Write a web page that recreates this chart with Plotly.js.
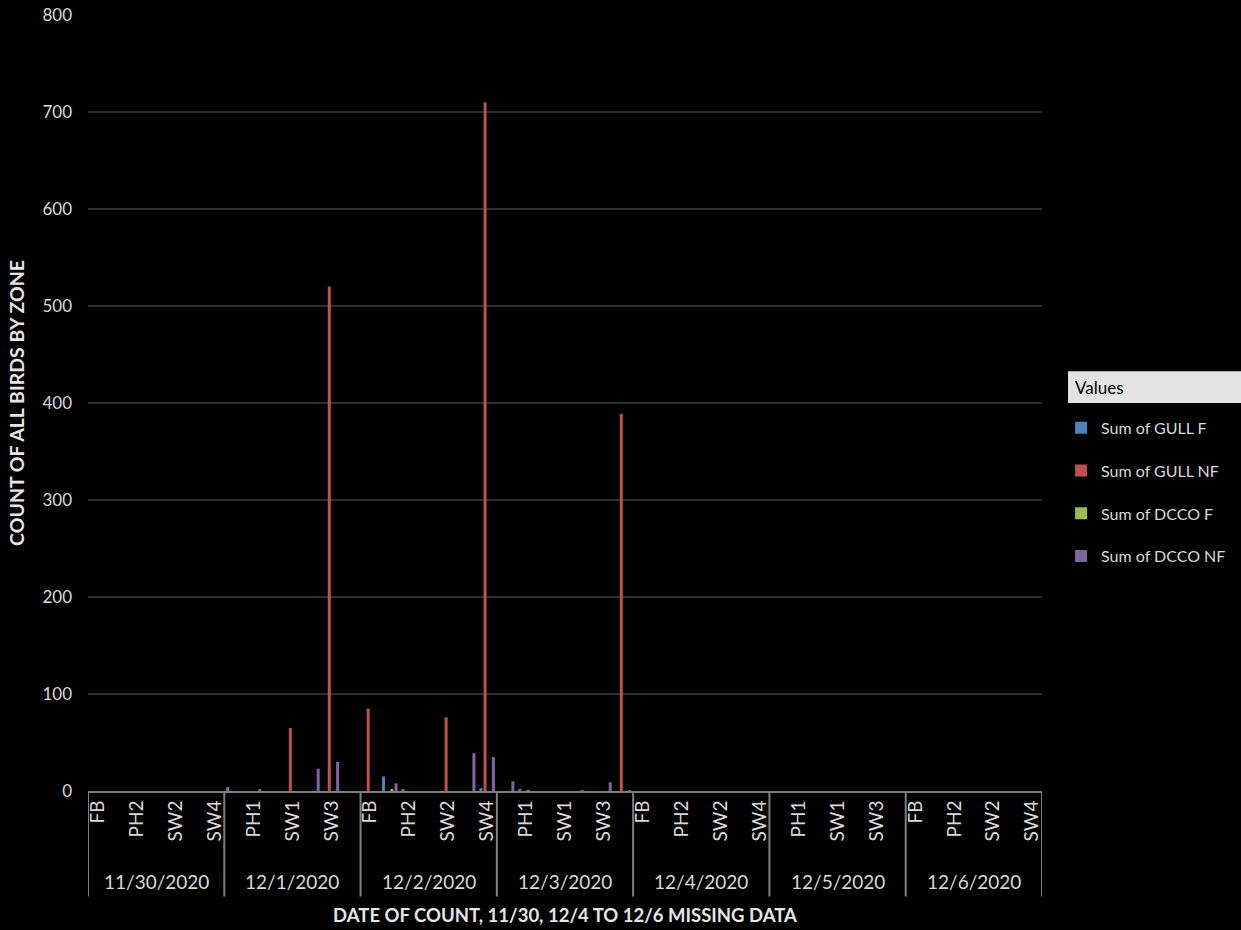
<!DOCTYPE html>
<html>
<head>
<meta charset="utf-8">
<script src="https://cdn.plot.ly/plotly-3.0.1.min.js"></script>
<style>
  html, body { margin: 0; padding: 0; background: #000; }
  #chart { width: 1241px; height: 930px; }
</style>
</head>
<body>
<div id="chart"></div>
<script>
// Categories
const dates = ["11/30/2020", "12/1/2020", "12/2/2020", "12/3/2020", "12/4/2020", "12/5/2020", "12/6/2020"];
const zones = ["FB", "PH1", "PH2", "SW1", "SW2", "SW3", "SW4"];

// Series values, one row of 7 zones per date (FB, PH1, PH2, SW1, SW2, SW3, SW4)
const gullF = [
  0, 0, 0, 0, 0, 0, 0,
  4, 0, 0, 0, 0, 0, 0,
  0, 15, 2, 0, 0, 0, 3,
  0, 2, 0, 0, 0, 0, 0,
  0, 0, 0, 0, 0, 0, 0,
  0, 0, 0, 0, 0, 0, 0,
  0, 0, 0, 0, 0, 0, 0
];
const gullNF = [
  0, 0, 0, 0, 0, 0, 0,
  0, 0, 0, 65, 0, 520, 0,
  85, 0, 0, 0, 76, 0, 710,
  0, 0, 0, 0, 1, 0, 389,
  0, 0, 0, 0, 0, 0, 0,
  0, 0, 0, 0, 0, 0, 0,
  0, 0, 0, 0, 0, 0, 0
];
const dccoF = [
  0, 0, 0, 0, 0, 0, 0,
  0, 0, 0, 0, 0, 0, 0,
  0, 2, 0, 0, 0, 0, 0,
  0, 1, 0, 0, 0, 0, 0,
  0, 0, 0, 0, 0, 0, 0,
  0, 0, 0, 0, 0, 0, 0,
  0, 0, 0, 0, 0, 0, 0
];
const dccoNF = [
  0, 0, 0, 0, 0, 0, 0,
  0, 2, 0, 0, 23, 30, 0,
  0, 8, 0, 0, 0, 39, 35,
  10, 0, 0, 0, 0, 9, 1,
  0, 0, 0, 0, 0, 0, 0,
  0, 0, 0, 0, 0, 0, 0,
  0, 0, 0, 0, 0, 0, 0
];
const seriesNames = ["Sum of GULL F", "Sum of GULL NF", "Sum of DCCO F", "Sum of DCCO NF"];
const seriesColors = ["#4f81bd", "#c0504d", "#9bbb59", "#8064a2"];
const yTicks = [0, 100, 200, 300, 400, 500, 600, 700, 800];

// Build flat category list
const cats = [];
dates.forEach(d => zones.forEach(z => cats.push(d + " " + z)));
// Every other zone label shown (as in the reference)
const tickVals = cats.filter((c, i) => i % 2 === 0);
const tickText = tickVals.map(c => c.split(" ")[1]);

const seriesVals = [gullF, gullNF, dccoF, dccoNF];
const textColor = "#d9d9d9";
const fontFam = "Lato, 'Open Sans', sans-serif";

const traces = seriesVals.map((vals, k) => ({
  type: "bar",
  name: seriesNames[k],
  x: cats,
  y: vals,
  marker: { color: seriesColors[k] },
  legendgroup: "g" + k,
  hoverinfo: "x+y+name"
}));

const lineColor = "#7f7f7f";
const shapes = [];
const annotations = [];
const nz = zones.length;
for (let d = 0; d <= dates.length; d++) {
  shapes.push({
    type: "line", xref: "x", yref: "paper",
    x0: d * nz - 0.5, x1: d * nz - 0.5, y0: 0, y1: -0.136,
    line: { color: lineColor, width: 2 }
  });
}
dates.forEach((d, i) => {
  annotations.push({
    xref: "x", yref: "paper",
    x: i * nz + (nz - 1) / 2, y: -0.117,
    text: d, showarrow: false, yanchor: "middle",
    font: { family: fontFam, size: 19, color: textColor }
  });
});
// Legend header "Values"
shapes.push({
  type: "rect", xref: "paper", yref: "paper",
  x0: 1.0273, x1: 1.21, y0: 0.5, y1: 0.541,
  fillcolor: "#e3e3e3", line: { width: 0 }
});
annotations.push({
  xref: "paper", yref: "paper", x: 1.0325, y: 0.5205,
  xanchor: "left", yanchor: "middle", showarrow: false,
  text: "Values", font: { family: fontFam, size: 17, color: "#000" }
});

const layout = {
  width: 1241, height: 930,
  paper_bgcolor: "#000", plot_bgcolor: "#000",
  margin: { l: 88, r: 199, t: 15, b: 139, autoexpand: false },
  barmode: "group",
  bargap: 0.14,
  bargroupgap: 0.28,
  showlegend: true,
  legend: {
    x: 1.02, xanchor: "left", y: 0.49, yanchor: "top",
    font: { family: fontFam, size: 16, color: textColor },
    tracegroupgap: 19, traceorder: "grouped",
    bgcolor: "rgba(0,0,0,0)"
  },
  xaxis: {
    type: "category",
    categoryorder: "array", categoryarray: cats,
    tickmode: "array", tickvals: tickVals, ticktext: tickText,
    tickangle: -90,
    tickfont: { family: fontFam, size: 19, color: textColor },
    showgrid: false, zeroline: false,
    showline: true, linecolor: lineColor, linewidth: 2,
    ticks: "",
    range: [-0.5, cats.length - 0.5],
    automargin: false,
    title: {
      text: "DATE OF COUNT, 11/30, 12/4 TO 12/6 MISSING DATA",
      font: { family: fontFam, size: 18.5, color: "#e6e6e6", weight: "bold" },
      standoff: 68
    }
  },
  yaxis: {
    range: [0, 800],
    tickmode: "array", tickvals: yTicks,
    tickfont: { family: fontFam, size: 17, color: textColor },
    showgrid: true, gridcolor: "#2e2e2e", gridwidth: 1.5,
    zeroline: false, showline: false,
    ticks: "", ticklabelstandoff: 15,
    automargin: false,
    title: {
      text: "COUNT OF ALL BIRDS BY ZONE",
      font: { family: fontFam, size: 19.5, color: "#e6e6e6", weight: "bold" },
      standoff: 12
    }
  },
  shapes: shapes,
  annotations: annotations
};

Plotly.newPlot("chart", traces, layout, { displayModeBar: false, staticPlot: true });
</script>
</body>
</html>
